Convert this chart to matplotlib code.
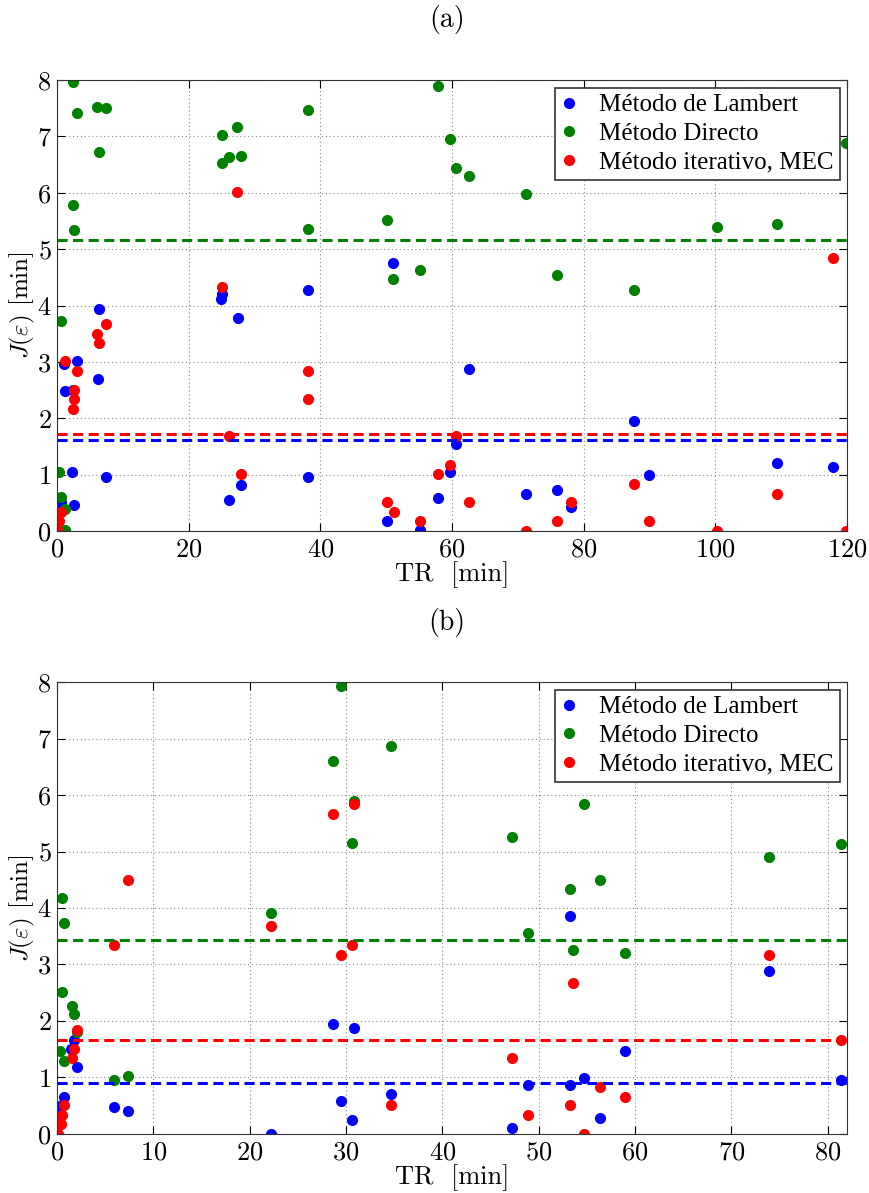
import matplotlib
matplotlib.use('Agg')
import matplotlib.pyplot as plt

plt.rcParams['font.family'] = ['cmr10', 'DejaVu Serif']
plt.rcParams['mathtext.fontset'] = 'cm'
plt.rcParams['axes.formatter.use_mathtext'] = True

# ---- datos (a) ----
lam_a_x = [0.2, 0.3, 0.56, 1.12, 1.22, 2.33, 2.4, 2.58, 2.99, 6.18, 6.38, 7.39, 24.9, 25.0, 26.1,
           27.45, 27.95, 38.2, 38.2, 50.13, 51.09, 55.1, 57.92, 59.75, 60.66, 62.54, 71.29, 76.0,
           78.13, 87.7, 89.97, 109.3, 117.9]
lam_a_y = [0.34, 0.48, 0.51, 2.97, 2.48, 1.05, 2.5, 0.46, 3.01, 2.70, 3.93, 0.96, 4.12, 4.2, 0.55,
           3.78, 0.81, 4.28, 0.95, 0.18, 4.75, 0.02, 0.59, 1.05, 1.55, 2.88, 0.66, 0.73,
           0.42, 1.95, 1.0, 1.21, 1.13]
dir_a_x = [0.3, 0.56, 0.56, 1.22, 1.22, 2.38, 2.48, 2.53, 2.99, 6.13, 6.38, 7.39, 25.0, 25.07, 26.1,
           27.4, 27.95, 38.2, 38.1, 50.13, 51.09, 55.1, 57.92, 59.75, 60.66, 62.54, 71.29, 76.0,
           87.7, 100.2, 109.3, 119.85]
dir_a_y = [1.05, 3.72, 0.60, 0.39, 0.01, 5.79, 7.97, 5.34, 7.42, 7.52, 6.72, 7.50, 7.02, 6.52, 6.63,
           7.17, 6.65, 7.46, 5.35, 5.51, 4.47, 4.63, 7.89, 6.95, 6.44, 6.29, 5.97, 4.55,
           4.27, 5.39, 5.45, 6.89]
mec_a_x = [0.0, 0.3, 0.56, 1.22, 2.38, 2.53, 2.53, 2.99, 6.13, 6.38, 7.39, 25.0, 26.1, 27.4, 27.95,
           38.2, 38.2, 50.13, 51.14, 55.1, 57.92, 59.75, 60.66, 62.54, 71.29, 76.0, 78.13, 87.7,
           89.97, 100.2, 109.3, 117.9, 119.85]
mec_a_y = [0.01, 0.17, 0.34, 3.01, 2.17, 2.50, 2.34, 2.83, 3.50, 3.33, 3.67, 4.33, 1.69, 6.01, 1.01,
           2.83, 2.34, 0.51, 0.34, 0.17, 1.01, 1.17, 1.68, 0.51, 0.0, 0.17, 0.51, 0.83,
           0.17, 0.0, 0.66, 4.85, 0.0]
media_a = [1.61, 5.16, 1.716]   # Lambert, Directo, MEC

# ---- datos (b) ----
lam_b_x = [0.17, 0.34, 0.76, 1.45, 1.73, 2.08, 5.89, 7.38, 22.17, 28.65, 29.52, 30.66, 30.83, 34.65,
           47.22, 48.86, 53.2, 53.2, 54.67, 56.4, 59.0, 73.87, 81.35]
lam_b_y = [0.34, 0.5, 0.66, 1.50, 1.67, 1.19, 0.48, 0.41, 0.0, 1.94, 0.58, 0.25, 1.88, 0.71,
           0.10, 0.87, 0.86, 3.86, 0.99, 0.28, 1.46, 2.89, 0.95]
dir_b_x = [0.34, 0.52, 0.52, 0.69, 0.69, 1.56, 1.73, 2.1, 5.89, 7.38, 22.17, 28.65, 29.52, 30.66,
           30.83, 34.65, 47.22, 48.86, 53.2, 53.53, 54.67, 56.4, 59.0, 73.87, 81.35]
dir_b_y = [1.47, 4.18, 2.52, 3.74, 1.30, 2.26, 2.13, 1.8, 0.96, 1.02, 3.91, 6.61, 7.93, 5.15,
           5.90, 6.86, 5.25, 3.55, 4.33, 3.25, 5.84, 4.50, 3.21, 4.90, 5.14]
mec_b_x = [0.06, 0.41, 0.52, 0.76, 1.56, 1.73, 2.08, 5.89, 7.34, 22.17, 28.65, 29.52, 30.66, 30.83,
           34.65, 47.22, 48.86, 53.2, 53.53, 54.67, 56.4, 59.0, 73.87, 81.35]
mec_b_y = [0.0, 0.17, 0.34, 0.51, 1.34, 1.50, 1.84, 3.34, 4.50, 3.68, 5.67, 3.17, 3.34, 5.84,
           0.51, 1.34, 0.34, 0.51, 2.67, 0.0, 0.83, 0.66, 3.17, 1.67]
media_b = [0.90, 3.43, 1.67]

nombres = ['Método de Lambert', 'Método Directo', 'Método iterativo, MEC']
colores = ['#0000ff', '#008000', '#ff0000']


def panel(ax, series, medias, xmax, xticks):
    for (x, y), c, n in zip(series, colores, nombres):
        ax.plot(x, y, 'o', color=c, ms=7, mec=c, label=n)
    for m, c in zip(medias, colores):
        ax.axhline(m, color=c, ls=(0, (3.3, 1.8)), lw=2.2)
    ax.set_xlim(0, xmax)
    ax.set_ylim(0, 8)
    ax.set_xticks(xticks)
    ax.set_yticks(range(0, 9))
    ax.grid(True, ls=(0, (1, 2.5)), color='#8a8a8a', lw=0.8)
    ax.tick_params(direction='in', top=True, right=True, length=6, labelsize=19)
    ax.tick_params(axis='x', pad=5)
    ax.tick_params(axis='y', pad=4)
    for s in ax.spines.values():
        s.set_color('#333333')
    ax.set_xlabel('TR  [min]', fontsize=19, labelpad=0)
    ax.set_ylabel(r'$J(\varepsilon)$ [min]', fontsize=18, labelpad=0)
    leg = ax.legend(loc='upper right', numpoints=1, fancybox=False, framealpha=1,
                    edgecolor='#333333', prop={'family': 'Liberation Serif', 'size': 18},
                    handlelength=0.6, handletextpad=0.9, borderaxespad=0.3,
                    labelspacing=0.25, borderpad=0.25)
    leg.get_frame().set_linewidth(1.2)


fig = plt.figure(figsize=(8.69, 11.93), dpi=100)
ax1 = fig.add_axes([0.0656, 0.5549, 0.9091, 0.378])
ax2 = fig.add_axes([0.0656, 0.0495, 0.9091, 0.3788])

panel(ax1, [(lam_a_x, lam_a_y), (dir_a_x, dir_a_y), (mec_a_x, mec_a_y)], media_a,
      120, range(0, 121, 20))
panel(ax2, [(lam_b_x, lam_b_y), (dir_b_x, dir_b_y), (mec_b_x, mec_b_y)], media_b,
      82, range(0, 81, 10))

fig.text(0.514, 1 - 20 / 1193, '(a)', ha='center', va='center', fontsize=20)
fig.text(0.514, 1 - 623 / 1193, '(b)', ha='center', va='center', fontsize=20)

fig.savefig('out.png', dpi=100)
